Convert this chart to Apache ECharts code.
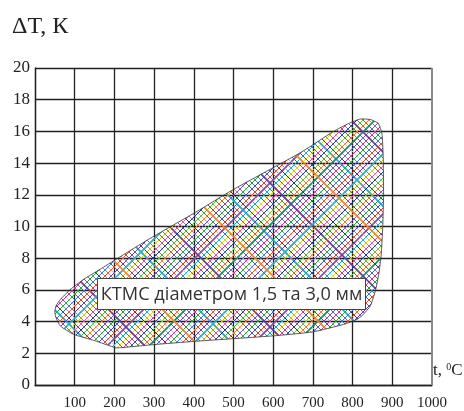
<!DOCTYPE html>
<html>
<head>
<meta charset="utf-8">
<script src="https://cdn.jsdelivr.net/npm/echarts@6/dist/echarts.min.js"></script>
<style>
html,body{margin:0;padding:0;background:#fff;}
#chart{width:464px;height:411px;}
</style>
</head>
<body>
<div id="chart"></div>
<script>
// ---- data ----
const xTicks = [0, 100, 200, 300, 400, 500, 600, 700, 800, 900, 1000];
const yTicks = [0, 2, 4, 6, 8, 10, 12, 14, 16, 18, 20];
// outline of the КТМС scatter region: temperature t (°C) and ΔT (K)
const outlineT  = [50, 53, 64, 89, 122, 164, 206, 290, 408, 497, 668, 752, 790, 819, 845, 865, 874, 877, 878, 876, 872, 866, 858, 845, 825, 811, 777, 700, 600, 400, 300, 215, 203, 150, 97, 64, 52];
const outlineDT = [4.66, 5.0, 5.4, 6.03, 6.66, 7.3, 7.96, 9.25, 10.95, 12.3, 14.65, 16.0, 16.5, 16.78, 16.75, 16.5, 15.85, 14.5, 12.0, 10.0, 8.2, 7.0, 6.0, 5.0, 4.4, 4.14, 3.82, 3.35, 3.1, 2.75, 2.55, 2.35, 2.35, 2.8, 3.2, 3.72, 4.3];
const regionLabel = 'КТМС діаметром 1,5 та 3,0 мм';
const yTitle = 'ΔT, К';

// ---- hatch style ----
const hatchColorsA = ['#2a9d45','#3050b8','#e03a2a','#8a4aa8','#20a8d0','#e8d830','#d84890','#2a3a90','#78c040','#f07a20','#1a8a5a','#5a5ac8',
                      '#c03898','#2a9d45','#4070d0','#e05030','#6a3a98','#30b0c8','#c8c828','#e06aa0','#203080','#60b840','#e88830','#7a4ab0'];
const hatchColorsB = ['#3050b8','#78c040','#8a4aa8','#e03a2a','#2a9d45','#20a8d0','#2a3a90','#f07a20','#d84890','#e8d830','#5a5ac8','#1a8a5a',
                      '#e05030','#4070d0','#6a3a98','#2a9d45','#c03898','#30b0c8','#203080','#e06aa0','#60b840','#c8c828','#7a4ab0','#e88830'];
function makeHatch() {
  const n = 24, s = 6, N = n * s;
  const c = document.createElement('canvas');
  c.width = N; c.height = N;
  const g = c.getContext('2d');
  for (let i = 0; i < n; i++) {
    const k = i * s + s / 2;
    g.lineWidth = (i % 7 === 3) ? 1.6 : 1;
    g.strokeStyle = hatchColorsA[i];
    g.beginPath();
    g.moveTo(k + 2, -2); g.lineTo(-2, k + 2);
    g.moveTo(N + 2, k - 2); g.lineTo(k - 2, N + 2);
    g.stroke();
    g.lineWidth = (i % 9 === 5) ? 1.6 : 1;
    g.strokeStyle = hatchColorsB[i];
    g.beginPath();
    g.moveTo(k - 2, -2); g.lineTo(N + 2, N - k + 2);
    g.moveTo(-2, N - k - 2); g.lineTo(k + 2, N + 2);
    g.stroke();
  }
  return c;
}
const hatch = makeHatch();

const serif = '"Liberation Serif", "DejaVu Serif", serif';
const chart = echarts.init(document.getElementById('chart'), null, {renderer: 'canvas'});
chart.setOption({
  backgroundColor: '#fff',
  animation: false,
  grid: {left: 35, right: 32, top: 68, bottom: 25, containLabel: false},
  xAxis: {
    type: 'value', min: xTicks[0], max: xTicks[xTicks.length - 1], interval: 100,
    axisLine: {show: true, onZero: false, lineStyle: {color: '#222', width: 1.3}},
    axisTick: {show: false},
    axisLabel: {margin: 11, fontFamily: serif, fontSize: 15, color: '#222',
      formatter: v => (v === 0 ? '' : String(v))},
    splitLine: {show: true, showMaxLine: false, lineStyle: {color: '#222', width: 1.3}}
  },
  yAxis: {
    type: 'value', min: yTicks[0], max: yTicks[yTicks.length - 1], interval: 2,
    axisLine: {show: true, lineStyle: {color: '#222', width: 1.3}},
    axisTick: {show: false},
    axisLabel: {margin: 5, fontFamily: serif, fontSize: 17, color: '#222'},
    splitLine: {show: true, lineStyle: {color: '#222', width: 1.3}}
  },
  series: [{
    type: 'custom',
    clip: false,
    z: 2,
    data: [[outlineT[0], outlineDT[0]]],
    renderItem: function (params, api) {
      const pts = outlineT.map((t, i) => api.coord([t, outlineDT[i]]));
      const r0 = api.coord([xTicks[xTicks.length - 1], yTicks[0]]);
      const r1 = api.coord([xTicks[xTicks.length - 1], yTicks[yTicks.length - 1]]);
      return {
        type: 'group',
        children: [
          {type: 'line', shape: {x1: r0[0], y1: r0[1], x2: r1[0], y2: r1[1]},
           style: {stroke: '#8a8a8a', lineWidth: 2}},
          {type: 'polygon', shape: {points: pts, smooth: 0.15},
           style: {fill: {image: hatch, repeat: 'repeat'}, stroke: '#333', lineWidth: 0.8}}
        ]
      };
    }
  }],
  graphic: [
    {type: 'text', left: 12, top: 15, z: 100,
     style: {text: yTitle, font: '24px ' + serif, fill: '#222'}},
    {type: 'text', left: 433, top: 362, z: 100,
     style: {text: '{a|t, }{b|0}{a|C}', fill: '#222',
       rich: {a: {fontFamily: serif, fontSize: 17, color: '#222'},
              b: {fontFamily: serif, fontSize: 10, color: '#222', verticalAlign: 'top'}}}},
    {type: 'group', left: 97, top: 278, z: 100, children: [
      {type: 'rect', z: 100, shape: {x: 0, y: 0, width: 268, height: 31},
       style: {fill: '#fff', stroke: '#444', lineWidth: 1}},
      {type: 'text', z: 101, x: 134, y: 16,
       style: {text: regionLabel, font: '18.2px "Open Sans", "Noto Sans", sans-serif', fill: '#333',
               align: 'center', verticalAlign: 'middle'}}
    ]}
  ]
});
</script>
</body>
</html>
